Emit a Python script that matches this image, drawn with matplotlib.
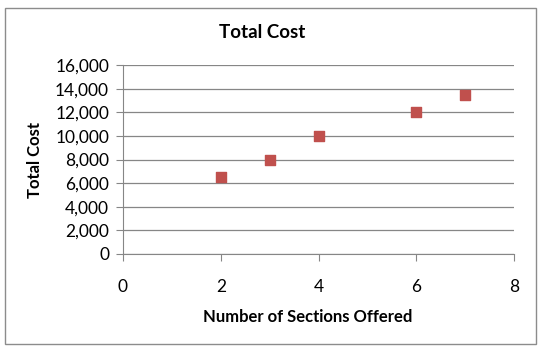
import matplotlib.pyplot as plt
from matplotlib.patches import Rectangle
from matplotlib.ticker import FuncFormatter

# Dane
sekcje = [2, 3, 4, 6, 7]
koszt = [6500, 8000, 10000, 12000, 13500]
y_ticks = list(range(0, 16001, 2000))
x_ticks = [0, 2, 4, 6, 8]

plt.rcParams['font.family'] = ['Lato', 'DejaVu Sans']

fig = plt.figure(figsize=(5.41, 3.52), dpi=100)
ax = fig.add_axes([123 / 541, 1 - 254 / 352, (514 - 123) / 541, (254 - 65) / 352])

# Ramka wokół wykresu
fig.patches.append(Rectangle((5 / 541, 1 - 344 / 352), 531 / 541, 336 / 352,
                             transform=fig.transFigure, fill=False,
                             edgecolor='#8c8c8c', linewidth=1))

ax.scatter(sekcje, koszt, marker='s', s=45, color='#C0504D', zorder=3)

ax.set_xlim(0, 8)
ax.set_ylim(0, 16000)
ax.set_xticks(x_ticks)
ax.set_yticks(y_ticks)
ax.yaxis.set_major_formatter(FuncFormatter(lambda v, p: f"{int(v):,}"))
ax.grid(axis='y', color='#868686', linewidth=0.9)
ax.set_axisbelow(True)

for s in ['top', 'right']:
    ax.spines[s].set_visible(False)
ax.spines['left'].set_color('#868686')
ax.spines['bottom'].set_color('#868686')
ax.tick_params(axis='x', length=5, direction='out', color='#868686', pad=13, labelsize=12.5)
ax.tick_params(axis='y', length=5, direction='out', color='#868686', pad=5, labelsize=12.5)

fig.text(262 / 541, 1 - 32 / 352, "Total Cost", ha='center', va='center',
         fontsize=13.5, fontweight='bold')
fig.text(308 / 541, 1 - 317 / 352, "Number of Sections Offered", ha='center', va='center',
         fontsize=12, fontweight='bold')
fig.text(35 / 541, 1 - 160 / 352, "Total Cost", ha='center', va='center',
         fontsize=12, fontweight='bold', rotation=90)

fig.savefig("out.png", dpi=100)
